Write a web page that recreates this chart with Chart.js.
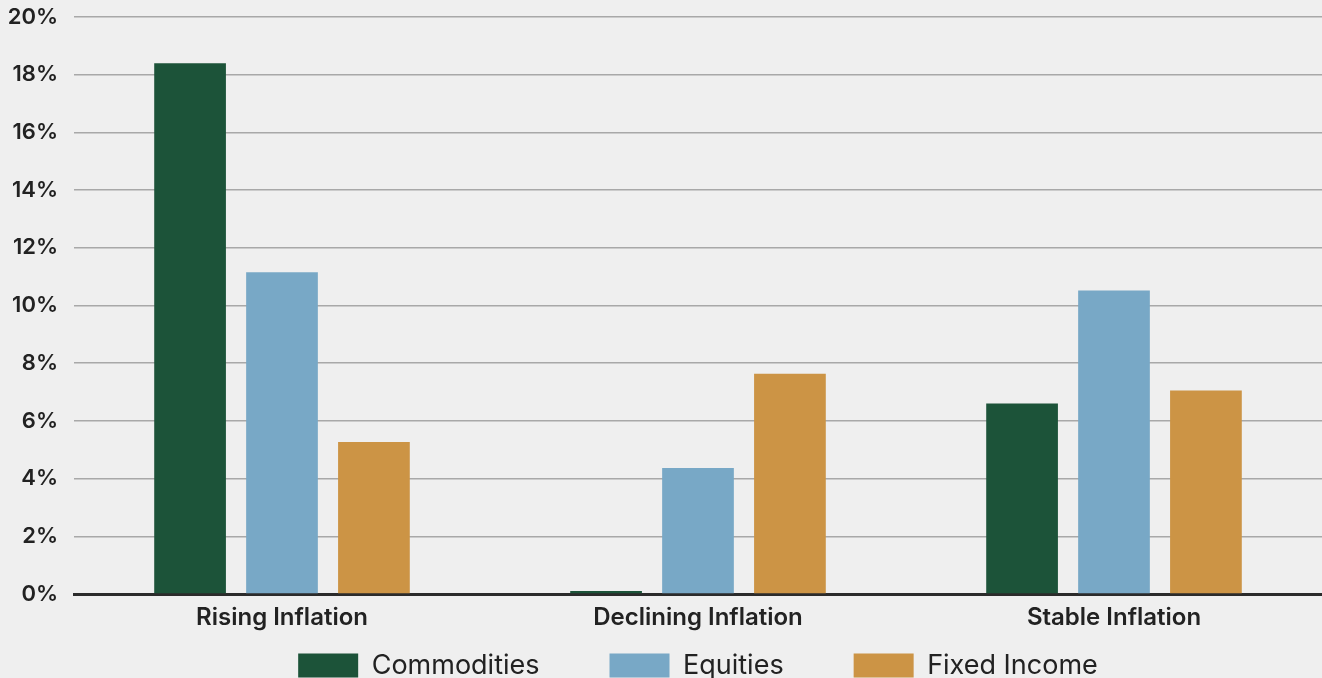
<!DOCTYPE html>
<html>
<head>
<meta charset="utf-8">
<script src="https://cdn.jsdelivr.net/npm/chart.js@4"></script>
<style>
  html, body { margin: 0; padding: 0; background: #efefef; }
  #wrap { width: 1322px; height: 678px; }
</style>
</head>
<body>
<div id="wrap"><canvas id="myChart" width="1322" height="678"></canvas></div>
<script>
// data
const categories = ['Rising Inflation', 'Declining Inflation', 'Stable Inflation'];
const commodities = [18.4, 0.1, 6.6];
const equities = [11.15, 4.37, 10.52];
const fixedIncome = [5.27, 7.63, 7.05];
const yTicks = [0, 2, 4, 6, 8, 10, 12, 14, 16, 18, 20];

const FONT = 'Inter, "Noto Sans", sans-serif';

// move legend under the plot area (centred on it, not on the canvas)
const legendShift = {
  id: 'legendShift',
  afterLayout(chart) {
    const lg = chart.legend;
    const pad = lg.options.labels.padding;
    lg.left = chart.chartArea.left;
    lg.top = chart.chartArea.bottom + 58 - pad;
  }
};

const ctx = document.getElementById('myChart').getContext('2d');
new Chart(ctx, {
  type: 'bar',
  data: {
    labels: categories,
    datasets: [{
      label: 'Commodities',
      data: commodities,
      backgroundColor: '#1c5339'
    }, {
      label: 'Equities',
      data: equities,
      backgroundColor: '#78a8c6'
    }, {
      label: 'Fixed Income',
      data: fixedIncome,
      backgroundColor: '#cc9445'
    }]
  },
  options: {
    responsive: false,
    animation: false,
    categoryPercentage: 0.663,
    barPercentage: 0.78,
    layout: { padding: 0 },
    plugins: {
      tooltip: { enabled: false },
      legend: {
        position: 'bottom',
        maxHeight: 44,
        labels: {
          boxWidth: 60,
          boxHeight: 24,
          padding: 70,
          color: '#222',
          font: { family: FONT, size: 27 }
        }
      }
    },
    scales: {
      x: {
        grid: { display: false, drawTicks: false },
        border: { color: '#2b2b2b', width: 3 },
        ticks: {
          padding: 9,
          color: '#222',
          font: { family: FONT, size: 24, weight: '600' }
        },
        afterFit(s) { s.height = 40; }
      },
      y: {
        min: 0,
        max: 20,
        afterBuildTicks(s) { s.ticks = yTicks.map(v => ({ value: v })); },
        grid: { color: '#a8a8a8', lineWidth: 1.5, drawTicks: false },
        border: { display: false },
        ticks: {
          padding: 16,
          color: '#222',
          font: { family: FONT, size: 22, weight: '600' },
          callback: v => v + '%'
        },
        afterFit(s) {
          s.width = 74;
          s.paddingTop = 17;
        }
      }
    }
  },
  plugins: [legendShift]
});
</script>
</body>
</html>
